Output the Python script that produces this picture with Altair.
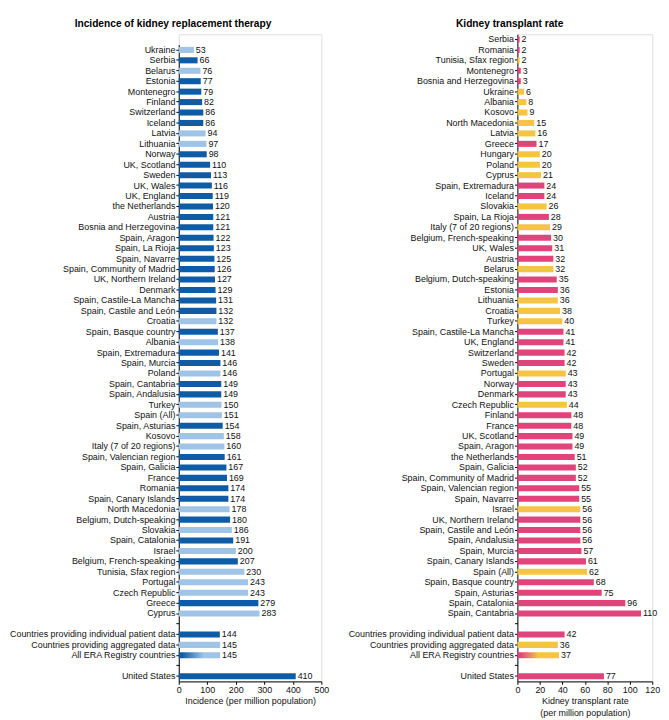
import altair as alt
import pandas as pd

# ---------------- data ----------------
left_labels = [
    "Ukraine", "Serbia", "Belarus", "Estonia", "Montenegro", "Finland", "Switzerland",
    "Iceland", "Latvia", "Lithuania", "Norway", "UK, Scotland", "Sweden", "UK, Wales",
    "UK, England", "the Netherlands", "Austria", "Bosnia and Herzegovina", "Spain, Aragon",
    "Spain, La Rioja", "Spain, Navarre", "Spain, Community of Madrid", "UK, Northern Ireland",
    "Denmark", "Spain, Castile-La Mancha", "Spain, Castile and León", "Croatia",
    "Spain, Basque country", "Albania", "Spain, Extremadura", "Spain, Murcia", "Poland",
    "Spain, Cantabria", "Spain, Andalusia", "Turkey", "Spain (All)", "Spain, Asturias",
    "Kosovo", "Italy (7 of 20 regions)", "Spain, Valencian region", "Spain, Galicia",
    "France", "Romania", "Spain, Canary Islands", "North Macedonia", "Belgium, Dutch-speaking",
    "Slovakia", "Spain, Catalonia", "Israel", "Belgium, French-speaking",
    "Tunisia, Sfax region", "Portugal", "Czech Republic", "Greece", "Cyprus",
    " ",
    "Countries providing individual patient data", "Countries providing aggregated data",
    "All ERA Registry countries",
    "  ",
    "United States",
]
left_values = [
    53, 66, 76, 77, 79, 82, 86, 86, 94, 97, 98, 110, 113, 116, 119, 120, 121, 121, 122,
    123, 125, 126, 127, 129, 131, 132, 132, 137, 138, 141, 146, 146, 149, 149, 150, 151,
    154, 158, 160, 161, 167, 169, 174, 174, 178, 180, 186, 191, 200, 207, 230, 243, 243,
    279, 283,
    None,
    144, 145, 145,
    None,
    410,
]
left_groups = [
    "agg", "ind", "agg", "ind", "ind", "ind", "ind", "ind", "agg", "agg", "ind", "ind",
    "ind", "ind", "ind", "ind", "ind", "ind", "ind", "ind", "ind", "ind", "ind", "ind",
    "ind", "ind", "agg", "ind", "agg", "ind", "ind", "agg", "ind", "ind", "agg", "agg",
    "ind", "agg", "agg", "ind", "ind", "ind", "ind", "ind", "agg", "ind", "agg", "ind",
    "agg", "ind", "agg", "agg", "agg", "ind", "agg",
    "blank",
    "ind", "agg", "grad",
    "blank",
    "ind",
]

right_labels = [
    "Serbia", "Romania", "Tunisia, Sfax region", "Montenegro", "Bosnia and Herzegovina",
    "Ukraine", "Albania", "Kosovo", "North Macedonia", "Latvia", "Greece", "Hungary",
    "Poland", "Cyprus", "Spain, Extremadura", "Iceland", "Slovakia", "Spain, La Rioja",
    "Italy (7 of 20 regions)", "Belgium, French-speaking", "UK, Wales", "Austria", "Belarus",
    "Belgium, Dutch-speaking", "Estonia", "Lithuania", "Croatia", "Turkey",
    "Spain, Castile-La Mancha", "UK, England", "Switzerland", "Sweden", "Portugal", "Norway",
    "Denmark", "Czech Republic", "Finland", "France", "UK, Scotland", "Spain, Aragon",
    "the Netherlands", "Spain, Galicia", "Spain, Community of Madrid",
    "Spain, Valencian region", "Spain, Navarre", "Israel", "UK, Northern Ireland",
    "Spain, Castile and León", "Spain, Andalusia", "Spain, Murcia", "Spain, Canary Islands",
    "Spain (All)", "Spain, Basque country", "Spain, Asturias", "Spain, Catalonia",
    "Spain, Cantabria",
    " ",
    "Countries providing individual patient data", "Countries providing aggregated data",
    "All ERA Registry countries",
    "  ",
    "United States",
]
right_values = [
    2, 2, 2, 3, 3, 6, 8, 9, 15, 16, 17, 20, 20, 21, 24, 24, 26, 28, 29, 30, 31, 32, 32,
    35, 36, 36, 38, 40, 41, 41, 42, 42, 43, 43, 43, 44, 48, 48, 49, 49, 51, 52, 52, 55,
    55, 56, 56, 56, 56, 57, 61, 62, 68, 75, 96, 110,
    None,
    42, 36, 37,
    None,
    77,
]
right_groups = [
    "ind", "ind", "agg", "ind", "ind", "agg", "agg", "agg", "agg", "agg", "ind", "agg",
    "agg", "agg", "ind", "ind", "agg", "ind", "agg", "ind", "ind", "ind", "agg", "ind",
    "ind", "agg", "agg", "agg", "ind", "ind", "ind", "ind", "agg", "ind", "ind", "agg",
    "ind", "ind", "ind", "ind", "ind", "ind", "ind", "ind", "ind", "agg", "ind", "ind",
    "ind", "ind", "ind", "agg", "ind", "ind", "ind", "ind",
    "blank",
    "ind", "agg", "grad",
    "blank",
    "ind",
]

left_ticks = [0, 100, 200, 300, 400, 500]
right_ticks = [0, 20, 40, 60, 80, 100, 120]

DARK_BLUE = "#0d5ca5"
LIGHT_BLUE = "#9fc4e5"
PINK = "#e0447b"
YELLOW = "#f5c445"

FONT = "Liberation Sans"
FS = 9.2
H = 667
N_RIGHT = len(right_labels)
STEP = H / N_RIGHT


def panel(labels, values, groups, c_ind, c_agg, xmax, ticks, width, yrange, title,
          xtitle, grad_stop, tdx):
    df = pd.DataFrame({"label": labels, "value": values, "grp": groups})
    yscale = alt.Scale(domain=labels, range=yrange, paddingInner=0.42, paddingOuter=0.21)
    yaxis = alt.Axis(title=None, labelFontSize=FS, labelFont=FONT, labelColor="#111",
                     labelLimit=400, tickSize=3, labelPadding=1, domainColor="#000",
                     tickColor="#000", grid=False)
    xscale = alt.Scale(domain=[0, xmax], nice=False)
    xaxis = alt.Axis(values=ticks, title=xtitle, labelFontSize=FS, labelFont=FONT,
                     labelColor="#111", titleFontSize=FS, titleFont=FONT,
                     titleFontWeight="normal", titleColor="#111", tickSize=3,
                     labelPadding=1, titlePadding=3, titleLineHeight=12,
                     domainColor="#000", tickColor="#000", grid=False, labelFlush=False)
    base = alt.Chart(df)
    bars = base.transform_filter(
        "datum.grp == 'ind' || datum.grp == 'agg'"
    ).mark_bar().encode(
        y=alt.Y("label:N", sort=None, scale=yscale, axis=yaxis),
        x=alt.X("value:Q", scale=xscale, axis=xaxis),
        color=alt.Color("grp:N", scale=alt.Scale(domain=["ind", "agg"],
                                                 range=[c_ind, c_agg]), legend=None),
    )
    grad = base.transform_filter("datum.grp == 'grad'").mark_bar(
        color={
            "gradient": "linear", "x1": 0, "x2": 1, "y1": 0, "y2": 0,
            "stops": [
                {"offset": 0, "color": c_ind},
                {"offset": 0.08, "color": c_ind},
                {"offset": grad_stop, "color": c_agg},
                {"offset": 1, "color": c_agg},
            ],
        }
    ).encode(
        y=alt.Y("label:N", sort=None, scale=yscale, axis=yaxis),
        x=alt.X("value:Q", scale=xscale, axis=xaxis),
    )
    text = base.transform_filter("datum.grp != 'blank'").mark_text(
        align="left", baseline="middle", dx=2, fontSize=FS, font=FONT, color="#111"
    ).encode(
        y=alt.Y("label:N", sort=None, scale=yscale, axis=yaxis),
        x=alt.X("value:Q", scale=xscale, axis=xaxis),
        text=alt.Text("value:Q"),
    )
    return alt.layer(bars, grad, text).properties(
        width=width, height=H,
        title=alt.Title(title, fontSize=10.5, fontWeight="bold", font=FONT,
                        color="#000", anchor="middle", frame="bounds", dx=tdx,
                        offset=5),
    )


left = panel(left_labels, left_values, left_groups, DARK_BLUE, LIGHT_BLUE, 500,
             left_ticks, 147, [STEP, H], "Incidence of kidney replacement therapy",
             "Incidence (per million population)", 0.6, 4)
right = panel(right_labels, right_values, right_groups, PINK, YELLOW, 120,
              right_ticks, 139, [0, H], "Kidney transplant rate",
              ["Kidney transplant rate", "(per million population)"], 0.5, 6)

chart = alt.hconcat(left, right, spacing=17).resolve_scale(
    color="independent"
).properties(
    padding={"left": 0, "top": 0, "right": 0, "bottom": 0}
).configure_view(stroke=None).configure(font=FONT)

chart.save("out.html", embed_options={"renderer": "svg", "actions": False})
